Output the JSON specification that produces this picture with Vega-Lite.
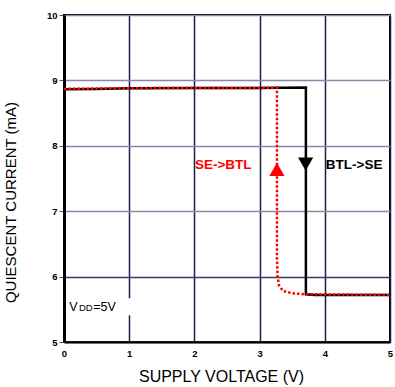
{
  "$schema": "https://vega.github.io/schema/vega-lite/v6.json",
  "width": 326,
  "height": 327,
  "autosize": {"type": "none"},
  "padding": {"left": 64, "top": 15, "right": 5, "bottom": 45},
  "background": "white",
  "config": {
    "font": "Liberation Sans",
    "view": {"stroke": "black", "strokeWidth": 2}
  },
  "datasets": {
    "black": [
      {"i": 0, "v": 0, "c": 8.865},
      {"i": 1, "v": 0.5, "c": 8.87},
      {"i": 2, "v": 1, "c": 8.88},
      {"i": 3, "v": 2, "c": 8.885},
      {"i": 4, "v": 3, "c": 8.885},
      {"i": 5, "v": 3.71, "c": 8.89},
      {"i": 6, "v": 3.71, "c": 5.73},
      {"i": 7, "v": 3.85, "c": 5.72},
      {"i": 8, "v": 5, "c": 5.72}
    ],
    "red": [
      {"i": 0, "v": 0, "c": 8.87},
      {"i": 1, "v": 0.5, "c": 8.875},
      {"i": 2, "v": 1, "c": 8.88},
      {"i": 3, "v": 2, "c": 8.885},
      {"i": 4, "v": 3, "c": 8.885},
      {"i": 5, "v": 3.266, "c": 8.89},
      {"i": 6, "v": 3.266, "c": 6.3},
      {"i": 7, "v": 3.275, "c": 6.0},
      {"i": 8, "v": 3.3, "c": 5.86},
      {"i": 9, "v": 3.36, "c": 5.78},
      {"i": 10, "v": 3.5, "c": 5.745},
      {"i": 11, "v": 3.7, "c": 5.73},
      {"i": 12, "v": 5, "c": 5.72}
    ],
    "arrows": [
      {"v": 3.266, "c": 7.64, "s": "up"},
      {"v": 3.706, "c": 7.72, "s": "down"}
    ],
    "labels": [
      {"v": 2.443, "c": 7.7, "t": "SE->BTL", "k": "red"},
      {"v": 4.449, "c": 7.7, "t": "BTL->SE", "k": "black"}
    ],
    "box": [
      {"v1": 0.04, "v2": 1.04, "c1": 5.41, "c2": 5.67}
    ],
    "vdd": [
      {"v": 0.081, "c": 5.478, "t": "V", "big": 1},
      {"v": 0.23, "c": 5.478, "t": "DD", "big": 0},
      {"v": 0.449, "c": 5.478, "t": "=5V", "big": 1}
    ]
  },
  "layer": [
    {
      "data": {"name": "black"},
      "mark": {"type": "line", "color": "black", "strokeWidth": 2.5, "clip": true},
      "encoding": {
        "x": {
          "field": "v", "type": "quantitative",
          "scale": {"domain": [0, 5], "nice": false},
          "axis": {
            "values": [0, 1, 2, 3, 4, 5],
            "format": "d",
            "title": "SUPPLY VOLTAGE (V)",
            "titleFont": "Liberation Sans",
            "titleFontSize": 16,
            "titleFontWeight": "normal",
            "titleColor": "black",
            "titleX": 157,
            "titleY": 39,
            "titleBaseline": "alphabetic",
            "titleAlign": "center",
            "labelFont": "Liberation Sans",
            "labelFontSize": 9.5,
            "labelFontWeight": "bold",
            "labelColor": "black",
            "labelPadding": 6,
            "labelFlush": false,
            "ticks": false,
            "domainColor": "black",
            "domainWidth": 2,
            "grid": true,
            "gridColor": "#1c1c4e",
            "gridWidth": 1.5
          }
        },
        "y": {
          "field": "c", "type": "quantitative",
          "scale": {"domain": [5, 10], "nice": false, "zero": false},
          "axis": {
            "values": [5, 6, 7, 8, 9, 10],
            "format": "d",
            "title": "QUIESCENT CURRENT (mA)",
            "titleFont": "Liberation Sans",
            "titleFontSize": 15,
            "titleFontWeight": "normal",
            "titleColor": "black",
            "titleAngle": -90,
            "titleX": -61,
            "titleY": 187,
            "titleBaseline": "top",
            "titleAlign": "center",
            "labelFont": "Liberation Sans",
            "labelFontSize": 9.5,
            "labelFontWeight": "bold",
            "labelColor": "black",
            "labelPadding": 2,
            "labelFlush": false,
            "ticks": true,
            "tickSize": 5,
            "tickColor": "#555555",
            "tickWidth": 1,
            "domainColor": "black",
            "domainWidth": 3,
            "grid": true,
            "gridColor": {"condition": {"test": "datum.value == 6", "value": "#3a3a6e"}, "value": "#8a88a8"},
            "gridWidth": 1.5
          }
        },
        "order": {"field": "i"}
      }
    },
    {
      "data": {"name": "red"},
      "mark": {"type": "line", "color": "#ff0000", "strokeWidth": 2.5, "strokeDash": [2.5, 2], "clip": true},
      "encoding": {
        "x": {"field": "v", "type": "quantitative"},
        "y": {"field": "c", "type": "quantitative"},
        "order": {"field": "i"}
      }
    },
    {
      "data": {"name": "arrows"},
      "mark": {"type": "point", "filled": true, "size": 230, "opacity": 1},
      "encoding": {
        "x": {"field": "v", "type": "quantitative"},
        "y": {"field": "c", "type": "quantitative"},
        "shape": {"field": "s", "type": "nominal", "scale": {"domain": ["up", "down"], "range": ["triangle-up", "triangle-down"]}, "legend": null},
        "color": {"field": "s", "type": "nominal", "scale": {"domain": ["up", "down"], "range": ["#ff0000", "black"]}, "legend": null}
      }
    },
    {
      "data": {"name": "labels"},
      "mark": {"type": "text", "fontSize": 13.5, "fontWeight": "bold", "font": "Liberation Sans", "align": "center", "baseline": "middle"},
      "encoding": {
        "x": {"field": "v", "type": "quantitative"},
        "y": {"field": "c", "type": "quantitative"},
        "text": {"field": "t"},
        "color": {"field": "k", "type": "nominal", "scale": {"domain": ["red", "black"], "range": ["#ff0000", "black"]}, "legend": null}
      }
    },
    {
      "data": {"name": "box"},
      "mark": {"type": "rect", "color": "white"},
      "encoding": {
        "x": {"field": "v1", "type": "quantitative"},
        "x2": {"field": "v2"},
        "y": {"field": "c1", "type": "quantitative"},
        "y2": {"field": "c2"}
      }
    },
    {
      "data": {"name": "vdd"},
      "mark": {"type": "text", "font": "Liberation Sans", "align": "left", "baseline": "alphabetic", "color": "black"},
      "encoding": {
        "x": {"field": "v", "type": "quantitative"},
        "y": {"field": "c", "type": "quantitative"},
        "text": {"field": "t"},
        "size": {"field": "big", "type": "quantitative", "scale": {"domain": [0, 1], "range": [9.5, 12.5]}, "legend": null}
      }
    }
  ]
}
